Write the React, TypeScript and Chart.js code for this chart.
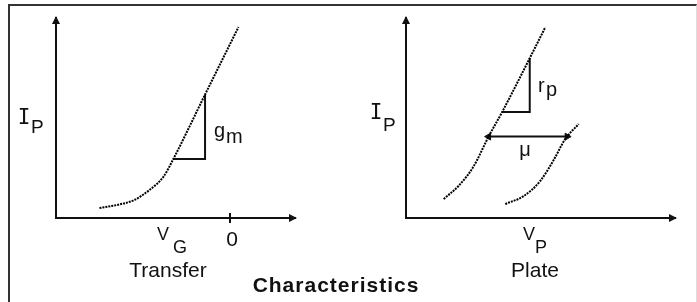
import React, { useEffect, useRef } from "react";
import { Chart, registerables } from "chart.js";

Chart.register(...registerables);

// ---- Transfer characteristic: plate current I_P vs grid voltage V_G ----
const vgRange = [-8, 3];
const ipRange = [0, 10];
const vgTicks = [0];
const transferVg = [-6, -5.2, -4.4, -3.7, -3.05, -2.6, -1.15, 0.4];
const transferIp = [0.5, 0.65, 0.9, 1.4, 2.07, 2.95, 6.15, 9.55];
// g_m slope triangle
const gmVg = [-2.6, -1.14, -1.14];
const gmIp = [2.95, 2.95, 6.15];

// ---- Plate characteristic: plate current I_P vs plate voltage V_P ----
const vpRange = [0, 10];
const plate1Vp = [1.4, 1.95, 2.5, 3.07, 3.57, 4.6, 5.18];
const plate1Ip = [0.95, 1.6, 2.55, 4.07, 5.29, 7.99, 9.54];
const plate2Vp = [3.69, 4.38, 4.99, 5.49, 5.92, 6.42];
const plate2Ip = [0.7, 1.1, 1.85, 2.9, 3.95, 4.7];
// r_p slope triangle
const rpVp = [3.57, 4.6, 4.6];
const rpIp = [5.3, 5.3, 8.0];
// mu double arrow
const muVp = [3.07, 5.99];
const muIp = [4.07, 4.07];

const INK = "#111";
const pts = (xs: number[], ys: number[]) => xs.map((x, i) => ({ x, y: ys[i] }));

type Label = { t: string; x: number; y: number; font: string; align?: CanvasTextAlign };

const SANS = '"Liberation Sans", Arial, sans-serif';
const MONO = '"DejaVu Sans Mono", monospace';

function makePlugin(originX: number, originY: number, labels: Label[], tickValues: number[]) {
  return {
    id: "diagramDecor",
    afterDraw(chart: any) {
      const { ctx, chartArea } = chart;
      const { left, right, top, bottom } = chartArea;
      ctx.save();
      ctx.fillStyle = INK;
      ctx.strokeStyle = INK;
      // arrow heads on axes
      ctx.beginPath();
      ctx.moveTo(left, top - 2);
      ctx.lineTo(left - 4, top + 6);
      ctx.lineTo(left + 4, top + 6);
      ctx.closePath();
      ctx.fill();
      ctx.beginPath();
      ctx.moveTo(right + 2, bottom);
      ctx.lineTo(right - 6, bottom - 4);
      ctx.lineTo(right - 6, bottom + 4);
      ctx.closePath();
      ctx.fill();
      // tick marks
      ctx.lineWidth = 2;
      tickValues.forEach((v) => {
        const px = Math.round(chart.scales.x.getPixelForValue(v));
        ctx.beginPath();
        ctx.moveTo(px, bottom - 5);
        ctx.lineTo(px, bottom + 5);
        ctx.stroke();
      });
      // labels (page coordinates)
      ctx.translate(-originX, -originY);
      ctx.textBaseline = "alphabetic";
      labels.forEach((l) => {
        ctx.font = l.font;
        ctx.textAlign = l.align || "left";
        ctx.fillText(l.t, l.x, l.y);
      });
      ctx.restore();
    },
  };
}

const curveStyle = {
  borderColor: "#000",
  borderWidth: 2,
  borderDash: [2, 1],
  pointRadius: 0,
  showLine: true,
  cubicInterpolationMode: "monotone" as const,
  clip: false as const,
};
const solidStyle = {
  borderColor: INK,
  borderWidth: 2,
  pointRadius: 0,
  showLine: true,
  tension: 0,
  clip: false as const,
};

function axis(min: number, max: number) {
  return {
    type: "linear" as const,
    min,
    max,
    ticks: { display: false },
    grid: { display: false, drawTicks: false },
    border: { display: true, color: INK, width: 2 },
  };
}

function Panel(props: {
  left: number;
  top: number;
  width: number;
  height: number;
  padding: { left: number; top: number; right: number; bottom: number };
  xRange: number[];
  datasets: any[];
  labels: Label[];
  ticks: number[];
}) {
  const ref = useRef<HTMLCanvasElement>(null);
  useEffect(() => {
    if (!ref.current) return;
    const chart = new Chart(ref.current, {
      type: "scatter",
      data: { datasets: props.datasets },
      options: {
        animation: false,
        responsive: false,
        maintainAspectRatio: false,
        events: [],
        layout: { padding: props.padding },
        plugins: { legend: { display: false }, tooltip: { enabled: false } },
        scales: {
          x: axis(props.xRange[0], props.xRange[1]),
          y: axis(ipRange[0], ipRange[1]),
        },
      },
      plugins: [makePlugin(props.left, props.top, props.labels, props.ticks)],
    });
    return () => chart.destroy();
  }, []);
  return (
    <canvas
      ref={ref}
      width={props.width}
      height={props.height}
      style={{ position: "absolute", left: props.left, top: props.top, width: props.width, height: props.height }}
    />
  );
}

export default function App() {
  const transferLabels: Label[] = [
    { t: "I", x: 24, y: 124, font: `21px ${MONO}`, align: "center" },
    { t: "P", x: 31, y: 133, font: `19px ${SANS}` },
    { t: "V", x: 157, y: 240, font: `18px ${SANS}` },
    { t: "G", x: 173, y: 253, font: `18px ${SANS}` },
    { t: "0", x: 232, y: 246, font: `21px ${SANS}`, align: "center" },
    { t: "Transfer", x: 168, y: 277, font: `21px ${SANS}`, align: "center" },
    { t: "g", x: 214, y: 137, font: `20px ${SANS}` },
    { t: "m", x: 226, y: 143, font: `20px ${SANS}` },
  ];
  const plateLabels: Label[] = [
    { t: "I", x: 376, y: 119, font: `21px ${MONO}`, align: "center" },
    { t: "P", x: 383, y: 131, font: `19px ${SANS}` },
    { t: "r", x: 538, y: 92, font: `20px ${SANS}` },
    { t: "p", x: 546, y: 96, font: `20px ${SANS}` },
    { t: "\u03BC", x: 525, y: 156, font: `20px ${SANS}`, align: "center" },
    { t: "V", x: 523, y: 240, font: `18px ${SANS}` },
    { t: "P", x: 535, y: 253, font: `18px ${SANS}` },
    { t: "Plate", x: 535, y: 277, font: `21px ${SANS}`, align: "center" },
  ];

  const transferSets = [
    { ...curveStyle, data: pts(transferVg, transferIp) },
    { ...solidStyle, data: pts(gmVg, gmIp) },
  ];
  const plateSets = [
    { ...curveStyle, data: pts(plate1Vp, plate1Ip) },
    { ...curveStyle, data: pts(plate2Vp, plate2Ip) },
    { ...solidStyle, data: pts(rpVp, rpIp) },
    {
      ...solidStyle,
      data: pts(muVp, muIp),
      pointRadius: 4,
      pointStyle: "triangle",
      pointRotation: [270, 90],
      pointBackgroundColor: INK,
      pointBorderColor: INK,
      pointBorderWidth: 1,
    },
  ];

  return (
    <div style={{ position: "fixed", left: 0, top: 0, width: 697, height: 302, background: "#fff", overflow: "hidden" }}>
      <div
        style={{
          position: "absolute",
          left: 8,
          top: 4,
          width: 686,
          height: 320,
          borderTop: "2px solid #333",
          borderLeft: "2px solid #333",
          borderRight: "1px solid #ddd",
        }}
      />
      <Panel
        left={10}
        top={6}
        width={335}
        height={296}
        padding={{ left: 46, top: 12, right: 50, bottom: 84 }}
        xRange={vgRange}
        datasets={transferSets}
        labels={transferLabels}
        ticks={vgTicks}
      />
      <Panel
        left={347}
        top={6}
        width={349}
        height={296}
        padding={{ left: 59, top: 12, right: 21, bottom: 84 }}
        xRange={vpRange}
        datasets={plateSets}
        labels={plateLabels}
        ticks={[]}
      />
      <div
        style={{
          position: "absolute",
          left: 236,
          width: 200,
          top: 274,
          textAlign: "center",
          font: `bold 21px ${SANS}`,
          lineHeight: "21px",
          color: INK,
          letterSpacing: "1px",
        }}
      >
        Characteristics
      </div>
    </div>
  );
}
